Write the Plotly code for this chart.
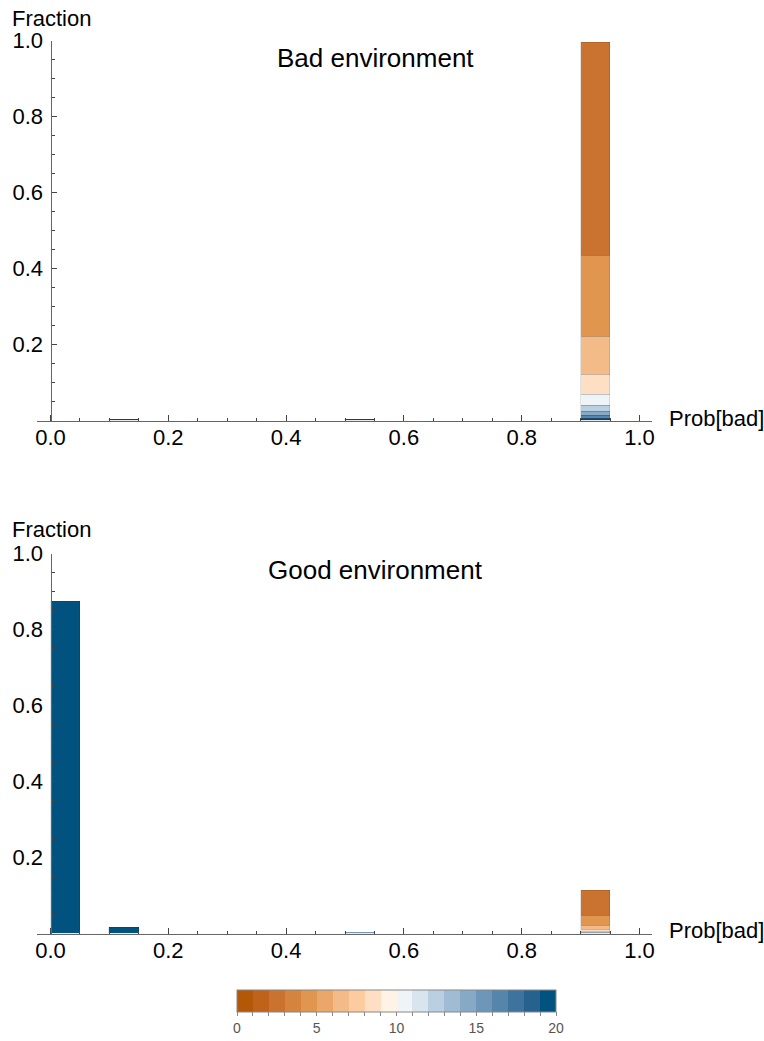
import plotly.graph_objects as go

# ---------------- data ----------------
bin_centers = [0.025, 0.125, 0.525, 0.925]   # histogram bins of width 0.05
bin_width = 0.05
levels = [20, 18, 16, 14, 12, 10, 8, 6, 4, 2]  # stacking order, bottom -> top

# fraction per level (rows follow `levels`), columns follow `bin_centers`
bad_env = [
    [0.0, 0.002, 0.002, 0.003],
    [0.0, 0.0, 0.0, 0.003],
    [0.0, 0.0, 0.0, 0.006],
    [0.0, 0.0, 0.0, 0.011],
    [0.0, 0.0, 0.0, 0.016],
    [0.0, 0.0, 0.0, 0.030],
    [0.0, 0.0, 0.0, 0.053],
    [0.0, 0.0, 0.0, 0.099],
    [0.0, 0.0, 0.0, 0.212],
    [0.0, 0.0, 0.0, 0.563],
]
good_env = [
    [0.873, 0.015, 0.0, 0.0],
    [0.0, 0.0, 0.0, 0.0],
    [0.0, 0.0, 0.0, 0.0],
    [0.0, 0.0, 0.003, 0.0],
    [0.0, 0.0, 0.0, 0.003],
    [0.0, 0.0, 0.0, 0.003],
    [0.0, 0.0, 0.0, 0.005],
    [0.0, 0.0, 0.0, 0.011],
    [0.0, 0.0, 0.0, 0.026],
    [0.0, 0.0, 0.0, 0.065],
]

palette = ["#B35806", "#C0631A", "#CA7230", "#D5843F", "#E0964F",
           "#EBA76A", "#F3BB87", "#FCCC9E", "#FFDFC4", "#FFF3E6",
           "#EFF4F8", "#D8E4EE", "#BBCFE2", "#A0BCD4", "#86A9C6",
           "#6D96B9", "#5585AB", "#3D739C", "#26628E", "#02527F"]
cbar_min, cbar_max = 0, 20

x_ticks = [0.0, 0.2, 0.4, 0.6, 0.8, 1.0]
y_ticks = [0.2, 0.4, 0.6, 0.8, 1.0]
titles = ["Bad environment", "Good environment"]

# ---------------- figure ----------------
FONT = "Liberation Sans, Arial, Helvetica, sans-serif"
W, H = 764, 1041
fig = go.Figure()


def color_for(level):
    return palette[min(level, len(palette) - 1)]


for panel, data in enumerate([bad_env, good_env]):
    xa = "x" if panel == 0 else "x2"
    ya = "y" if panel == 0 else "y2"
    for lev, row in zip(levels, data):
        fig.add_trace(go.Bar(
            x=bin_centers, y=[v if v > 0 else None for v in row],
            width=[bin_width] * len(bin_centers),
            marker=dict(color=color_for(lev),
                        line=dict(width=0.5, color="rgba(0,0,0,0.22)")),
            xaxis=xa, yaxis=ya, showlegend=False, hoverinfo="skip",
        ))

# colour bar
cs = []
n = len(palette)
for i, c in enumerate(palette):
    cs.append([i / n, c])
    cs.append([(i + 1) / n, c])
cb_vals = list(range(cbar_min, cbar_max + 1))
fig.add_trace(go.Scatter(
    x=[None], y=[None], mode="markers", showlegend=False, hoverinfo="skip",
    marker=dict(color=[cbar_min], colorscale=cs, cmin=cbar_min, cmax=cbar_max,
                showscale=True,
                colorbar=dict(orientation="h", x=(237 + 556) / 2 / W, xanchor="center",
                              y=1 - 990 / H, yanchor="top", len=319 / W, lenmode="fraction",
                              thickness=22, thicknessmode="pixels", xpad=0, ypad=0,
                              outlinecolor="#888888", outlinewidth=1,
                              tickvals=cb_vals,
                              ticktext=[str(v) if v % 5 == 0 else "" for v in cb_vals],
                              ticks="outside", ticklen=4, tickcolor="#888888",
                              tickfont=dict(family=FONT, size=14, color="#555555"))),
))

x0_px, x1_px = 50.5, 639.5
left_px, right_px = 37, 652
ppu = x1_px - x0_px
x_range = [(left_px - x0_px) / ppu, (right_px - x0_px) / ppu]
x_domain = [left_px / W, right_px / W]

panels_px = [(40.7, 420.7), (553.7, 933.7)]  # (y=1 pixel, y=0 pixel)

axis_common = dict(showgrid=False, zeroline=False, showline=True, linecolor="#666666",
                   linewidth=1, ticks="inside", tickcolor="#444444", ticklen=6,
                   tickfont=dict(family=FONT, size=22, color="black"))

for i, (top_px, bot_px) in enumerate(panels_px):
    sfx = "" if i == 0 else "2"
    fig.update_layout(**{
        f"xaxis{sfx}": dict(axis_common, domain=x_domain, range=x_range,
                            anchor=f"y{sfx}", tickmode="array", tickvals=x_ticks,
                            ticktext=[f"{v:.1f}" for v in x_ticks], ticklabelstandoff=-3,
                            minor=dict(dtick=0.05, tick0=0, ticks="inside", ticklen=3,
                                       tickcolor="#444444", showgrid=False)),
        f"yaxis{sfx}": dict(axis_common, domain=[1 - bot_px / H, 1 - top_px / H],
                            range=[0, 1.0], anchor="free", position=x0_px / W,
                            tickmode="array", tickvals=y_ticks, ticklabelstandoff=3,
                            ticktext=[f"{v:.1f}" for v in y_ticks], ticklen=5,
                            minor=dict(dtick=0.05, tick0=0, ticks="inside", ticklen=3,
                                       tickcolor="#444444", showgrid=False)),
    })

annotations = []
label_pos = [(18.5, 418, 58), (529, 930, 570)]
for i, (frac_y, prob_y, title_y) in enumerate(label_pos):
    annotations.append(dict(text="Fraction", xref="paper", yref="paper", x=10 / W,
                            y=1 - frac_y / H, xanchor="left", yanchor="middle",
                            showarrow=False, font=dict(family=FONT, size=22, color="black")))
    annotations.append(dict(text="Prob[bad]", xref="paper", yref="paper", x=667 / W,
                            y=1 - prob_y / H, xanchor="left", yanchor="middle",
                            showarrow=False, font=dict(family=FONT, size=22, color="black")))
    annotations.append(dict(text=titles[i], xref="paper", yref="paper", x=375 / W,
                            y=1 - title_y / H, xanchor="center", yanchor="middle",
                            showarrow=False, font=dict(family=FONT, size=26, color="black")))

fig.update_layout(width=W, height=H, margin=dict(l=0, r=0, t=0, b=0, autoexpand=False),
                  paper_bgcolor="white", plot_bgcolor="white", barmode="stack",
                  bargap=0, annotations=annotations, showlegend=False)

fig.write_html("out.html", config={"displayModeBar": False},
               post_script="document.body.style.margin='0px';document.body.style.overflow='hidden';")
